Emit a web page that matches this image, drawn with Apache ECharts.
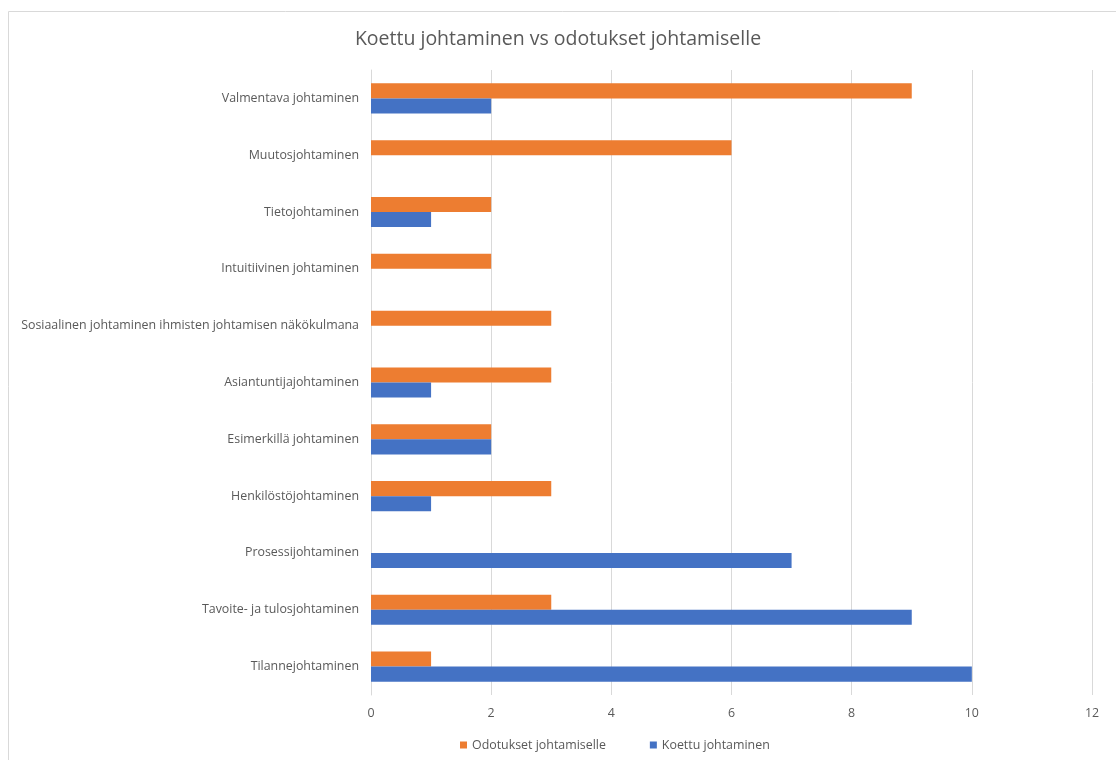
<!DOCTYPE html>
<html>
<head>
<meta charset="utf-8">
<script src="https://cdn.jsdelivr.net/npm/echarts@6/dist/echarts.min.js"></script>
<style>
html,body{margin:0;padding:0;background:#fff;}
#main{width:1116px;height:760px;}
</style>
</head>
<body>
<div id="main"></div>
<script>
const categories = [
  "Tilannejohtaminen",
  "Tavoite- ja tulosjohtaminen",
  "Prosessijohtaminen",
  "Henkilöstöjohtaminen",
  "Esimerkillä johtaminen",
  "Asiantuntijajohtaminen",
  "Sosiaalinen johtaminen ihmisten johtamisen näkökulmana",
  "Intuitiivinen johtaminen",
  "Tietojohtaminen",
  "Muutosjohtaminen",
  "Valmentava johtaminen"
];
const odotukset = [1, 3, 0, 3, 2, 3, 3, 2, 2, 6, 9];
const koettu = [10, 9, 7, 1, 2, 1, 0, 0, 1, 0, 2];
const seriesNames = ["Odotukset johtamiselle", "Koettu johtaminen"];
const titleText = "Koettu johtaminen vs odotukset johtamiselle";

const chart = echarts.init(document.getElementById('main'));
const font = "'Open Sans', 'Noto Sans', sans-serif";
chart.setOption({
  animation: false,
  textStyle: { fontFamily: font },
  graphic: [{
    type: 'rect',
    shape: { x: 8.5, y: 11.5, width: 1120, height: 760 },
    style: { fill: 'none', stroke: '#d9d9d9', lineWidth: 1 },
    silent: true
  }],
  title: {
    text: titleText,
    left: 'center',
    top: 24,
    textStyle: { fontFamily: font, fontSize: 19.5, fontWeight: 'normal', color: '#595959' }
  },
  legend: {
    data: seriesNames,
    bottom: 4,
    left: 455,
    itemWidth: 7,
    itemHeight: 7,
    itemGap: 44,
    icon: 'rect',
    textStyle: { fontFamily: font, fontSize: 12.4, color: '#595959' }
  },
  grid: { left: 371, right: 24, top: 70, bottom: 65, containLabel: false },
  xAxis: {
    type: 'value',
    min: 0, max: 12, interval: 2,
    axisLine: { show: false },
    axisTick: { show: false },
    splitLine: { show: true, lineStyle: { color: '#d9d9d9', width: 1 } },
    axisLabel: { color: '#595959', fontSize: 12.4, fontFamily: font, margin: 12 }
  },
  yAxis: {
    type: 'category',
    data: categories,
    axisLine: { show: true, lineStyle: { color: '#d9d9d9' } },
    axisTick: { show: false },
    axisLabel: { color: '#595959', fontSize: 12.4, fontFamily: font, margin: 12 }
  },
  series: [
    {
      name: seriesNames[0], type: 'bar', data: odotukset,
      itemStyle: { color: '#ED7D31' },
      barGap: '0%', barCategoryGap: '47%'
    },
    {
      name: seriesNames[1], type: 'bar', data: koettu,
      itemStyle: { color: '#4472C4' },
      barGap: '0%', barCategoryGap: '47%'
    }
  ]
});
</script>
</body>
</html>
